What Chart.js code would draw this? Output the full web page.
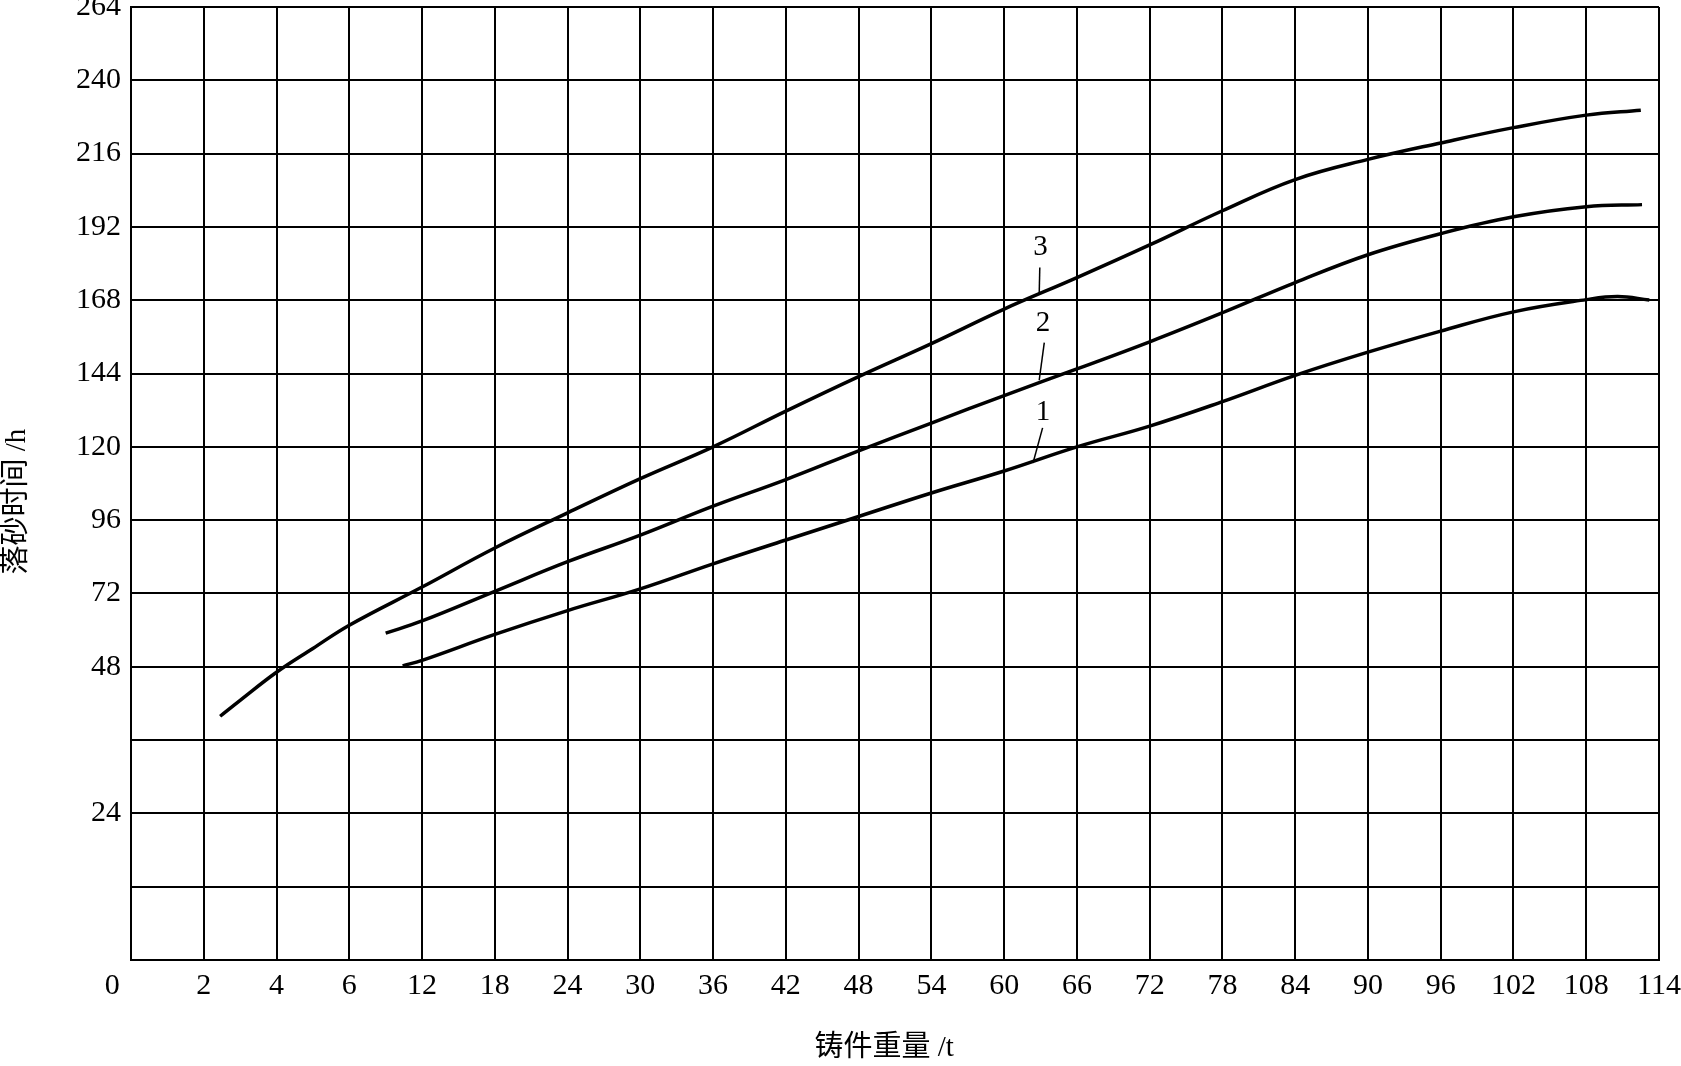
<!DOCTYPE html>
<html>
<head>
<meta charset="utf-8">
<script src="https://cdn.jsdelivr.net/npm/chart.js@4.4.1/dist/chart.umd.min.js"></script>
<style>
  html, body { margin: 0; padding: 0; background: #fff; }
  #wrap { width: 1681px; height: 1066px; }
</style>
</head>
<body>
<div id="wrap"><canvas id="chart"></canvas></div>
<script>
// tick labels (grid is evenly spaced, labels are not)
const xTickLabels = ['0     ', '2', '4', '6', '12', '18', '24', '30', '36', '42', '48', '54',
  '60', '66', '72', '78', '84', '90', '96', '102', '108', '114'];
const yTickLabels = ['', '', '24', '', '48', '72', '96', '120', '144', '168', '192', '216', '240', '264'];

// curves: casting weight (t) and shake-out time (h)
const curve1T = [10.4, 12, 18, 24, 30, 36, 42, 48, 54, 60, 66, 72, 78, 84, 90, 96, 102, 108, 110.6, 113.2];
const curve1H = [48.3, 50.1, 58.6, 66.4, 73.5, 81.7, 89.5, 97.2, 104.9, 112.1, 120, 126.8, 134.8, 143.4, 151, 157.9, 164.2, 168.2, 169.2, 168.1];

const curve2T = [9.0, 12, 18, 24, 30, 36, 42, 48, 54, 60, 66, 72, 78, 84, 90, 96, 102, 108, 112.6];
const curve2H = [59, 63, 72.7, 82.4, 91.1, 100.6, 109.3, 118.7, 127.8, 136.8, 145.5, 154.4, 163.9, 173.8, 182.9, 189.8, 195.3, 198.6, 199.3];

const curve3T = [2.45, 3, 4, 5, 6, 12, 18, 24, 30, 36, 42, 48, 54, 60, 66, 72, 78, 84, 90, 96, 102, 108, 112.5];
const curve3H = [39.9, 42.5, 47.1, 54, 61.6, 74.1, 86.9, 98.4, 109.6, 120, 131.7, 143, 153.8, 165.1, 175.4, 186.1, 197.3, 207.5, 214.1, 219.5, 224.5, 228.6, 230.2];

// curve numbers with leader lines (in t / h)
const labelNames = ['1', '2', '3'];
const labelT = [63.2, 63.2, 63.0];
const labelH = [131.4, 160.4, 185.4];
const leaderTopT = [63.17, 63.31, 62.94];
const leaderTopH = [126.2, 154.1, 178.7];
const leaderEndT = [62.38, 62.89, 62.89];
const leaderEndH = [114.7, 141.8, 169.9];

// the paper grid: 2 t per cell up to 6 t, then 6 t per cell
function xPos(t) {
  return t <= 6 ? t / 2 : 3 + (t - 6) / 6;
}
// 12 h per cell up to 48 h, then 24 h per cell
function yPos(h) {
  return h <= 48 ? h / 12 : 4 + (h - 48) / 24;
}

function toPoints(ts, hs) {
  return ts.map((t, i) => ({ x: xPos(t), y: yPos(hs[i]) }));
}

const serif = "'Liberation Serif', 'DejaVu Serif', serif";
const titleFont = "'Liberation Serif', 'Noto Sans CJK SC', serif";

function curve(ts, hs) {
  return {
    data: toPoints(ts, hs),
    borderColor: '#000',
    borderWidth: 3.5,
    pointRadius: 0,
    fill: false,
    tension: 0.4
  };
}

const curveLabels = {
  id: 'curveLabels',
  afterDatasetsDraw(chart) {
    const ctx = chart.ctx;
    const xs = chart.scales.x, ys = chart.scales.y;
    ctx.save();
    ctx.strokeStyle = '#000';
    ctx.lineWidth = 1.5;
    ctx.fillStyle = '#000';
    ctx.font = '29px ' + serif;
    ctx.textAlign = 'center';
    ctx.textBaseline = 'middle';
    labelNames.forEach((name, i) => {
      ctx.beginPath();
      ctx.moveTo(xs.getPixelForValue(xPos(leaderTopT[i])), ys.getPixelForValue(yPos(leaderTopH[i])));
      ctx.lineTo(xs.getPixelForValue(xPos(leaderEndT[i])), ys.getPixelForValue(yPos(leaderEndH[i])));
      ctx.stroke();
      ctx.fillText(name, xs.getPixelForValue(xPos(labelT[i])), ys.getPixelForValue(yPos(labelH[i])));
    });
    ctx.restore();
  }
};

new Chart(document.getElementById('chart'), {
  type: 'line',
  data: {
    datasets: [
      curve(curve1T, curve1H),
      curve(curve2T, curve2H),
      curve(curve3T, curve3H)
    ]
  },
  options: {
    responsive: true,
    maintainAspectRatio: false,
    animation: false,
    events: [],
    layout: { padding: { top: 7, right: 22, bottom: 0, left: 0 } },
    plugins: {
      legend: { display: false },
      tooltip: { enabled: false }
    },
    scales: {
      x: {
        type: 'linear',
        min: 0,
        max: 21,
        grid: { color: '#000', lineWidth: 2, drawTicks: false },
        border: { color: '#000', width: 2 },
        ticks: {
          stepSize: 1,
          autoSkip: false,
          maxRotation: 0,
          padding: 8,
          color: '#000',
          font: { family: serif, size: 30 },
          callback: (v) => xTickLabels[v]
        },
        title: {
          display: true,
          text: '铸件重量 /t   ',
          color: '#000',
          font: { family: titleFont, size: 29 },
          padding: { top: 26, bottom: 0 }
        },
        afterFit: (scale) => {
          scale.height = 106;
          scale.paddingRight = 0;
        }
      },
      y: {
        type: 'linear',
        min: 0,
        max: 13,
        grid: { color: '#000', lineWidth: 2, drawTicks: false },
        border: { color: '#000', width: 2 },
        ticks: {
          stepSize: 1,
          autoSkip: false,
          padding: 10,
          color: '#000',
          font: { family: serif, size: 30 },
          callback: (v) => yTickLabels[v]
        },
        title: {
          display: true,
          text: '落砂时间 /h     ',
          color: '#000',
          font: { family: titleFont, size: 29 },
          padding: { top: 0, bottom: 0 }
        },
        afterFit: (scale) => {
          scale.width = 131;
          scale.paddingTop = 0;
        }
      }
    }
  },
  plugins: [curveLabels]
});
</script>
</body>
</html>
